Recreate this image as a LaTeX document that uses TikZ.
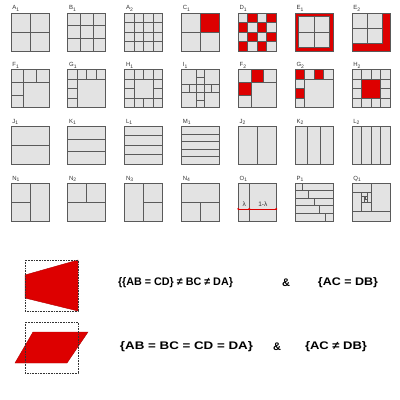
\documentclass[tikz,border=0pt]{standalone}
\usepackage{fontspec}
\setmainfont{Liberation Sans}
\usepackage{graphicx}
\definecolor{tilec}{HTML}{E3E3E3}
\definecolor{gridc}{HTML}{5A5A5A}
\definecolor{redc}{HTML}{DD0000}
\definecolor{labc}{HTML}{333333}
\tikzset{
  gl/.style={draw=gridc, line width=0.9pt},
  glthin/.style={draw=gridc, line width=0.6pt},
  tf/.style={fill=tilec},
  rf/.style={fill=redc},
  lab/.style={text=labc, font=\fontsize{6}{7}\selectfont, inner sep=0pt, anchor=base west},
  small/.style={text=labc, font=\fontsize{6.5}{7}\selectfont, inner sep=0pt},
  eq/.style={font=\bfseries\fontsize{11}{13}\selectfont, inner sep=0pt},
  dotbox/.style={draw=black!80, densely dotted, line width=0.6pt},
  redshape/.style={fill=redc, draw=redc!80!black, line width=0.4pt},
  redline/.style={draw=redc, line width=0.8pt},
  reddot/.style={fill=redc, inner sep=0pt, minimum size=2.2pt, circle},
}
\newcommand\myv[3]{\draw[gl] (#1,#2) -- (#1,#3);}
\newcommand\myh[3]{\draw[gl] (#2,#1) -- (#3,#1);}
\newcommand\myr[4]{\fill[rf] (#1,#2) rectangle (#3,#4);}
% \Tile{x}{y}{name}{label}{body}
\newcommand\Tile[5]{%
  \begin{scope}[shift={(#1pt,-#2pt)}, x=38pt, y=-38pt]
    \fill[tf] (0,0) rectangle (1,1);
    #5
    \draw[gl] (0,0) rectangle (1,1);
    \node[lab] (#3) at (0.03,-0.08) {#4};
  \end{scope}}
\begin{document}
\begin{tikzpicture}[x=1pt,y=-1pt]
\useasboundingbox (0,0) rectangle (400,400);
\fill[white] (0,0) rectangle (400,400);

% ---------- row 1 ----------
\Tile{11}{13}{lA1}{A\textsubscript{1}}{\myv{.5}{0}{1}\myh{.5}{0}{1}}
\Tile{67.8}{13}{lB1}{B\textsubscript{1}}{%
  \foreach \t in {1/3,2/3}{\myv{\t}{0}{1}\myh{\t}{0}{1}}}
\Tile{124.7}{13}{lA2}{A\textsubscript{2}}{%
  \foreach \t in {.25,.5,.75}{\myv{\t}{0}{1}\myh{\t}{0}{1}}}
\Tile{181.5}{13}{lC1}{C\textsubscript{1}}{\myr{.5}{0}{1}{.5}\myv{.5}{0}{1}\myh{.5}{0}{1}}
\Tile{238.3}{13}{lD1}{D\textsubscript{1}}{%
  \foreach \c/\r in {1/0,3/0,0/1,2/1,1/2,3/2,0/3,2/3}{\fill[rf] (\c/4,\r/4) rectangle ({(\c+1)/4},{(\r+1)/4});}
  \foreach \t in {.25,.5,.75}{\myv{\t}{0}{1}\myh{\t}{0}{1}}}
\Tile{295.2}{13}{lE1}{E\textsubscript{1}}{%
  \myr{0}{0}{1}{1}\fill[tf] (.09,.09) rectangle (.91,.91);
  \myv{.5}{.09}{.91}\myh{.5}{.09}{.91}\draw[gl] (.09,.09) rectangle (.91,.91);}
\Tile{352}{13}{lE2}{E\textsubscript{2}}{%
  \myr{0}{0}{1}{1}\fill[tf] (0,0) rectangle (.8,.8);
  \myv{.4}{0}{.8}\myh{.4}{0}{.8}\draw[gl] (0,0) rectangle (.8,.8);}

% ---------- row 2 ----------
\Tile{11}{69.7}{lF1}{F\textsubscript{1}}{%
  \myh{1/3}{0}{1}\myv{1/3}{0}{1}\myv{2/3}{0}{1/3}\myh{2/3}{0}{1/3}}
\Tile{67.8}{69.7}{lG1}{G\textsubscript{1}}{%
  \myh{.25}{0}{1}\myv{.25}{0}{1}\myv{.5}{0}{.25}\myv{.75}{0}{.25}\myh{.5}{0}{.25}\myh{.75}{0}{.25}}
\Tile{124.7}{69.7}{lH1}{H\textsubscript{1}}{%
  \myv{.25}{0}{1}\myv{.75}{0}{1}\myh{.25}{0}{1}\myh{.75}{0}{1}
  \myv{.5}{0}{.25}\myv{.5}{.75}{1}\myh{.5}{0}{.25}\myh{.5}{.75}{1}}
\Tile{181.5}{69.7}{lI1}{I\textsubscript{1}}{%
  \myv{.4}{0}{1}\myv{.6}{0}{1}\myh{.4}{0}{1}\myh{.6}{0}{1}
  \myh{.2}{.4}{.6}\myh{.8}{.4}{.6}\myv{.2}{.4}{.6}\myv{.8}{.4}{.6}}
\Tile{238.3}{69.7}{lF2}{F\textsubscript{2}}{%
  \myr{1/3}{0}{2/3}{1/3}\myr{0}{1/3}{1/3}{2/3}
  \myh{1/3}{0}{1}\myv{1/3}{0}{1}\myv{2/3}{0}{1/3}\myh{2/3}{0}{1/3}}
\Tile{295.2}{69.7}{lG2}{G\textsubscript{2}}{%
  \myr{0}{0}{.25}{.25}\myr{.5}{0}{.75}{.25}\myr{0}{.5}{.25}{.75}
  \myh{.25}{0}{1}\myv{.25}{0}{1}\myv{.5}{0}{.25}\myv{.75}{0}{.25}\myh{.5}{0}{.25}\myh{.75}{0}{.25}}
\Tile{352}{69.7}{lH2}{H\textsubscript{2}}{%
  \myr{.25}{.25}{.75}{.75}
  \myv{.25}{0}{1}\myv{.75}{0}{1}\myh{.25}{0}{1}\myh{.75}{0}{1}
  \myv{.5}{0}{.25}\myv{.5}{.75}{1}\myh{.5}{0}{.25}\myh{.5}{.75}{1}}

% ---------- row 3 ----------
\Tile{11}{126.4}{lJ1}{J\textsubscript{1}}{\myh{.5}{0}{1}}
\Tile{67.8}{126.4}{lK1}{K\textsubscript{1}}{\myh{1/3}{0}{1}\myh{2/3}{0}{1}}
\Tile{124.7}{126.4}{lL1}{L\textsubscript{1}}{\foreach \t in {.25,.5,.75}{\myh{\t}{0}{1}}}
\Tile{181.5}{126.4}{lM1}{M\textsubscript{1}}{\foreach \t in {.2,.4,.6,.8}{\myh{\t}{0}{1}}}
\Tile{238.3}{126.4}{lJ2}{J\textsubscript{2}}{\myv{.5}{0}{1}}
\Tile{295.2}{126.4}{lK2}{K\textsubscript{2}}{\myv{1/3}{0}{1}\myv{2/3}{0}{1}}
\Tile{352}{126.4}{lL2}{L\textsubscript{2}}{\foreach \t in {.25,.5,.75}{\myv{\t}{0}{1}}}

% ---------- row 4 ----------
\Tile{11}{183.1}{lN1}{N\textsubscript{1}}{\myv{.5}{0}{1}\myh{.5}{0}{.5}}
\Tile{67.8}{183.1}{lN2}{N\textsubscript{2}}{\myh{.5}{0}{1}\myv{.5}{0}{.5}}
\Tile{124.7}{183.1}{lN3}{N\textsubscript{3}}{\myv{.5}{0}{1}\myh{.5}{.5}{1}}
\Tile{181.5}{183.1}{lN4}{N\textsubscript{4}}{\myh{.5}{0}{1}\myv{.5}{.5}{1}}
\Tile{238.3}{183.1}{lO1}{O\textsubscript{1}}{\myv{.29}{0}{1}}
\begin{scope}[shift={(238.3pt,-183.1pt)}, x=38pt, y=-38pt]
  \coordinate (oa) at (-0.02,.68);
  \coordinate (ob) at (.29,.68);
  \coordinate (oc) at (1,.68);
  \draw[redline] (oa) -- (oc);
  \node[reddot] (da) at (0,.68) {};
  \node[reddot] (db) at (ob) {};
  \node[reddot] (dc) at (oc) {};
  \node[small] (lam) at (.155,.56) {λ};
  \node[small] (olam) at (.645,.56) {1-λ};
\end{scope}
\Tile{295.2}{183.1}{lP1}{P\textsubscript{1}}{%
  \foreach \t in {.2,.4,.6,.8}{\myh{\t}{0}{1}}
  \myv{.2}{0}{.2}\myv{.35}{.2}{.4}\myv{.51}{.4}{.6}\myv{.65}{.6}{.8}\myv{.8}{.8}{1}}
\Tile{352}{183.1}{lQ1}{Q\textsubscript{1}}{%
  \myh{.74}{0}{1}\myv{.5}{0}{.74}\myh{.25}{0}{.5}\myv{.25}{.25}{.74}\myh{.5}{.25}{.5}
  \myv{.4}{.25}{.5}
  \draw[glthin] (.25,.36) -- (.4,.36);
  \draw[glthin] (.32,.36) -- (.32,.5);
  \draw[glthin] (.32,.43) -- (.4,.43);
  \draw[glthin] (.36,.36) -- (.36,.43);}

% ---------- bottom shapes ----------
\fill[redshape] (25,275) -- (78,260) -- (78,311) -- (25,298) -- cycle;
\draw[dotbox] (25,260) rectangle (78,311);
\fill[redshape] (33,332) -- (88,332) -- (67,363) -- (15,363) -- cycle;
\draw[dotbox] (25,322) rectangle (78,373);

\node[eq] (t1) at (175.5,283) {\resizebox{115pt}{\height}{\{\{AB = CD\} ≠ BC ≠ DA\}}};
\node[eq] (a1) at (286,283) {\&};
\node[eq] (t2) at (348,283) {\resizebox{60pt}{\height}{\{AC = DB\}}};
\node[eq] (t3) at (186.5,347) {\resizebox{133pt}{\height}{\{AB = BC = CD = DA\}}};
\node[eq] (a2) at (277,347) {\&};
\node[eq] (t4) at (336,347) {\resizebox{62pt}{\height}{\{AC ≠ DB\}}};
\end{tikzpicture}
\end{document}
